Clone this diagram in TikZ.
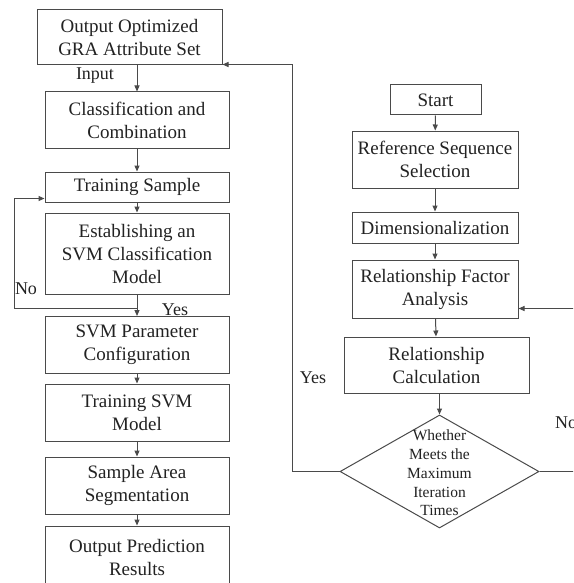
\documentclass[tikz,border=0pt]{standalone}
\usepackage{fontspec}
\setmainfont{Liberation Serif}
\usetikzlibrary{shapes.geometric,arrows.meta,calc}
\definecolor{ln}{HTML}{4A4A4A}
\definecolor{tx}{HTML}{222222}
\begin{document}
\begin{tikzpicture}[x=1pt,y=-1pt,
  box/.style={draw=ln,line width=1pt,fill=white,text=tx,align=center,inner sep=0pt,
    font=\fontsize{19}{23}\selectfont},
  dia/.style={draw=ln,line width=1pt,diamond,text=tx,align=center,inner sep=0pt,
    font=\fontsize{15.5}{18.7}\selectfont},
  lbl/.style={text=tx,inner sep=0pt,font=\fontsize{18}{22}\selectfont},
  line/.style={draw=ln,line width=1pt},
  arr/.style={line,-{Triangle[length=6pt,width=5pt]}}]
\useasboundingbox (0,0) rectangle (573,583);
\fill[white] (0,0) rectangle (573,583);
\begin{scope}
\clip (0,0) rectangle (573,583);
% left column
\node[box,minimum width=185,minimum height=55] (b1) at (129.5,37.5) {Output Optimized\\GRA Attribute Set};
\node[box,minimum width=184,minimum height=56] (b2) at (137,120) {Classification and\\Combination};
\node[box,minimum width=184,minimum height=30] (b3) at (137,187) {Training Sample};
\node[box,minimum width=184,minimum height=81] (b4) at (137,253.5) {Establishing an\\SVM Classification\\Model};
\node[box,minimum width=184,minimum height=57] (b5) at (137,345) {SVM Parameter\\Configuration};
\node[box,minimum width=184,minimum height=57] (b6) at (137,412.5) {Training SVM\\Model};
\node[box,minimum width=184,minimum height=57] (b7) at (137,485.5) {Sample Area\\Segmentation};
\node[box,minimum width=184,minimum height=62,text depth=0pt] (b8) at (137,557) {Output Prediction\\Results};
% right column
\node[box,minimum width=91,minimum height=30] (r0) at (435.5,100) {Start};
\node[box,minimum width=166,minimum height=57] (r1) at (435,159.5) {Reference Sequence\\Selection};
\node[box,minimum width=166,minimum height=31] (r2) at (435,227.5) {Dimensionalization};
\node[box,minimum width=166,minimum height=58] (r3) at (435,289) {Relationship Factor\\Analysis};
\node[box,minimum width=185,minimum height=56] (r4) at (436.5,365) {Relationship\\Calculation};
\node[dia,minimum width=199,minimum height=113] (d) at (439.5,471.5) {};
\node[dia,draw=none,shape=rectangle] (dt) at (439.5,473) {Whether\\Meets the\\Maximum\\Iteration\\Times};
% labels
\node[lbl] (lin) at (95,76) {Input};
\node[lbl] (lno) at (26,289) {No};
\node[lbl] (lyes) at (175,310) {Yes};
\node[lbl] (ryes) at (313,378) {Yes};
\node[lbl,anchor=west] (rno) at (555,423) {No};
% left arrows
\draw[arr] (b1.south -| b2.north) -- (b2.north);
\draw[arr] (b2) -- (b3);
\draw[arr] (b3) -- (b4);
\coordinate (j1) at (137,308);
\draw[line] (b4.south) -- (j1);
\draw[arr] (j1) -- (b5.north);
\coordinate (nl) at (14,308);
\coordinate (nt) at ($(b3.south west)+(0,-4)$);
\draw[arr] (j1) -- (nl) |- (nt);
\draw[arr] (b5) -- (b6);
\draw[arr] (b6) -- (b7);
\draw[arr] (b7) -- (b8);
% right arrows
\draw[arr] (r0) -- (r1);
\draw[arr] (r1) -- (r2);
\draw[arr] (r2) -- (r3);
\draw[arr] (r3) -- (r4);
\draw[arr] (r4.south -| d.north) -- (d.north);
% feedback
\coordinate (yx) at (292,471.5);
\coordinate (yt) at ($(b1.south east)+(0,-1)$);
\draw[arr] (d.west) -- (yx) |- (yt);
\coordinate (nx) at (590,471.5);
\coordinate (nt2) at ($(r3.south east)+(0,-10)$);
\draw[arr] (d.east) -- (nx) |- (nt2);
\end{scope}
\end{tikzpicture}
\end{document}
